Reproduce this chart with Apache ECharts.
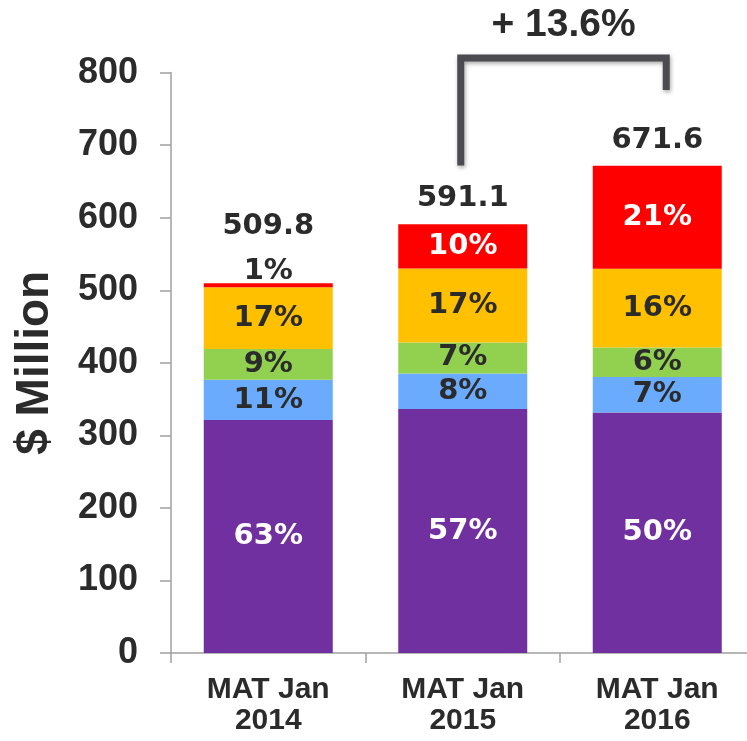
<!DOCTYPE html>
<html>
<head>
<meta charset="utf-8">
<style>html,body{margin:0;padding:0;background:#fff}#c{width:747px;height:741px}</style>
<script src="https://cdn.jsdelivr.net/npm/echarts@6/dist/echarts.min.js"></script>
</head>
<body>
<div id="c"></div>
<script>
// ---- data ----
var categories = ['MAT Jan\n2014', 'MAT Jan\n2015', 'MAT Jan\n2016'];
var purpleVals = [321.0, 336.2, 331.4];
var blueVals   = [55.5, 49.2, 48.9];
var greenVals  = [42.5, 42.7, 40.9];
var orangeVals = [85.0, 101.9, 108.6];
var redVals    = [5.8, 61.1, 141.8];
var purplePct = [63, 57, 50];
var bluePct   = [11, 8, 7];
var greenPct  = [9, 7, 6];
var orangePct = [17, 17, 16];
var redPct    = [1, 10, 21];
var totals = [509.8, 591.1, 671.6];
var growthLabel = '+ 13.6%';
var yTicks = [0, 100, 200, 300, 400, 500, 600, 700, 800];

var dark = '#2b2b2b';
var labelFont = 'DejaVu Sans';
var axisFont = 'Liberation Sans';

function seg(name, vals, pcts, color, txtColor, overrides) {
  return {
    name: name, type: 'bar', stack: 'total', barWidth: 129,
    itemStyle: { color: color },
    label: {
      show: true, position: 'inside', color: txtColor,
      fontFamily: labelFont, fontWeight: 'bold', fontSize: 29,
      formatter: function (p) { return pcts[p.dataIndex] + '%'; }
    },
    data: vals.map(function (v, i) {
      var d = { value: v };
      if (overrides && overrides[i]) d.label = overrides[i];
      return d;
    })
  };
}

var chart = echarts.init(document.getElementById('c'));
var option = {
  animation: false,
  grid: { left: 171, top: 72.6, width: 583.5, bottom: 88, containLabel: false, outerBoundsMode: 'none' },
  xAxis: {
    type: 'category', data: categories,
    axisLine: { lineStyle: { color: '#a0a0a0', width: 1.5 } },
    axisTick: { show: true, length: 10, lineStyle: { color: '#a0a0a0', width: 1.5 } },
    axisLabel: {
      color: dark, fontFamily: axisFont, fontWeight: 'bold', fontSize: 30,
      lineHeight: 31, margin: 21, interval: 0
    }
  },
  yAxis: {
    type: 'value', min: 0, max: 800, interval: 100,
    name: '$ Million', nameLocation: 'middle', nameGap: 113, nameRotate: 90,
    nameTextStyle: { color: dark, fontFamily: axisFont, fontWeight: 'bold', fontSize: 46 },
    axisLine: { show: true, lineStyle: { color: '#a0a0a0', width: 1.5 } },
    axisTick: { show: true, length: 11, lineStyle: { color: '#a0a0a0', width: 1.5 } },
    splitLine: { show: false },
    axisLabel: {
      color: dark, fontFamily: axisFont, fontWeight: 'bold', fontSize: 36, margin: 33,
      formatter: function (v) { return yTicks.indexOf(v) >= 0 ? String(v) : ''; }
    }
  },
  series: [
    seg('Purple', purpleVals, purplePct, '#7030a0', '#ffffff'),
    seg('Blue', blueVals, bluePct, '#6aabfd', dark),
    seg('Green', greenVals, greenPct, '#92d050', dark),
    seg('Orange', orangeVals, orangePct, '#ffc000', dark),
    seg('Red', redVals, redPct, '#ff0000', '#ffffff',
        [{ position: 'top', distance: -3, color: dark }, null, null]),
    {
      name: 'Total', type: 'scatter', symbolSize: 0, silent: true,
      itemStyle: { opacity: 1 },
      label: {
        show: true, position: 'top', color: dark, opacity: 1,
        fontFamily: labelFont, fontWeight: 'bold', fontSize: 29,
        formatter: function (p) { return totals[p.dataIndex].toFixed(1); }
      },
      data: totals.map(function (v, i) {
        return { value: v, label: { distance: i === 0 ? 42 : 11 } };
      })
    }
  ]
};
chart.setOption(option);

// growth bracket annotation, positioned from the chart's own scales
var pL = chart.convertToPixel({ gridIndex: 0 }, [1, 672]);
var pT = chart.convertToPixel({ gridIndex: 0 }, [1, 820]);
var pR = chart.convertToPixel({ gridIndex: 0 }, [2, 776]);
var xl = pL[0] - 2, xr = pR[0] + 9;
chart.setOption({
  graphic: [
    {
      type: 'polyline',
      shape: { points: [[xl, pL[1]], [xl, pT[1]], [xr, pT[1]], [xr, pR[1]]] },
      style: {
        stroke: '#4b4b51', lineWidth: 7, fill: null, lineJoin: 'miter',
        shadowBlur: 4, shadowColor: 'rgba(0,0,0,0.35)', shadowOffsetY: 2, shadowOffsetX: 1
      }
    },
    {
      type: 'text',
      x: (xl + xr) / 2, y: pT[1] - 33,
      style: {
        text: growthLabel, fill: dark, font: 'bold 39px "Liberation Sans"',
        textAlign: 'center', textVerticalAlign: 'middle'
      }
    }
  ]
});
</script>
</body>
</html>
